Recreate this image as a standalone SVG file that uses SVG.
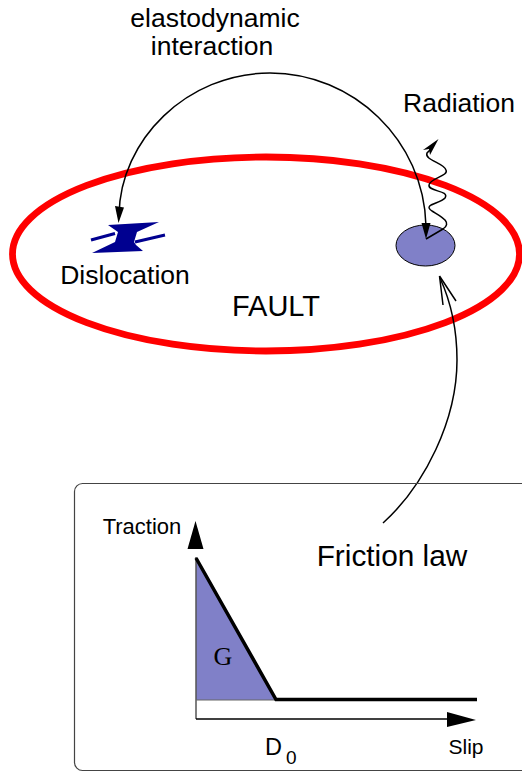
<svg xmlns="http://www.w3.org/2000/svg" width="522" height="772" viewBox="0 0 522 772">
<style>
text{font-family:"Liberation Sans",Arial,sans-serif;fill:#000}
.w{fill:none;stroke:#000;stroke-width:1.500}
</style>
<rect width="522" height="772" fill="#fff"/>
<g id="fault">
<ellipse cx="266" cy="254" rx="253.500" ry="97" fill="none" stroke="#f00" stroke-width="6.800"/>
<text x="276" y="316" font-size="29" text-anchor="middle">FAULT</text>
</g>
<g id="dislocation">
<path d="M91 240L115 233.500M135 242L165 235" fill="none" stroke="#000090" stroke-width="3"/>
<path d="M108 225L159 222L137 232L134 242L136 245L143 251L92 253L115 242L118 232Z" fill="#000090"/>
<text x="125" y="284" font-size="26.500" text-anchor="middle">Dislocation</text>
</g>
<g id="source">
<ellipse cx="425.500" cy="245.500" rx="29.500" ry="20.500" fill="#8080c8" stroke="#000" stroke-width="1"/>
</g>
<g id="radiation-label"><text x="459" y="112" font-size="26.500" text-anchor="middle">Radiation</text></g>
<g id="interaction-label"><text font-size="26.500" text-anchor="middle"><tspan x="215" y="27">elastodynamic</tspan><tspan x="212" y="55">interaction</tspan></text></g>
<g id="connectors">
<path class="w" d="M119 215C120 140 187 73 270 73C353 73 424 140 426 226"/>
<path d="M118.500 223L115 206L124 207.500Z"/>
<path d="M426 239L421.500 223L430.500 223Z"/>
<path class="w" d="M426 239L443 229C453 222 440 216 432 211C422 204 440 204 445 198C450 190 428 192 429 185C430 178 449 176 446 170C444 163 424 160 427 153L432 148"/>
<path d="M438.500 139L430 155L429 149L423 150Z"/>
<path class="w" d="M383 523C425 485 457 420 457 360C457 330 450 300 440 278"/>
<path class="w" d="M439.500 276L456 301M439.500 276L443 305"/>
</g>
<g id="friction-box">
<rect x="74.500" y="483.500" width="460" height="287" rx="8" fill="none" stroke="#444" stroke-width="1.200"/>
<path d="M196 557L196 700L276 700Z" fill="#8080c8"/>
<path d="M196 557V719" fill="none" stroke="#555" stroke-width="1.500"/>
<path d="M196 719H460" fill="none" stroke="#000" stroke-width="1.500"/>
<path d="M196 700H276" fill="none" stroke="#666" stroke-width="1"/>
<path d="M195.500 521L187.500 549H203.500Z"/>
<path d="M476 720L447 712V727Z"/>
<path d="M196 558L276 699.500H477" fill="none" stroke="#000" stroke-width="3.500"/>
<text x="142" y="534" font-size="22" text-anchor="middle">Traction</text>
<text x="392" y="566" font-size="29.800" text-anchor="middle">Friction law</text>
<text x="223" y="665" font-size="26" text-anchor="middle" style="font-family:'Liberation Serif',serif">G</text>
<text x="265" y="755" font-size="23.500">D</text>
<text x="286" y="764" font-size="19">0</text>
<text x="466" y="754" font-size="21" text-anchor="middle">Slip</text>
</g>
</svg>
